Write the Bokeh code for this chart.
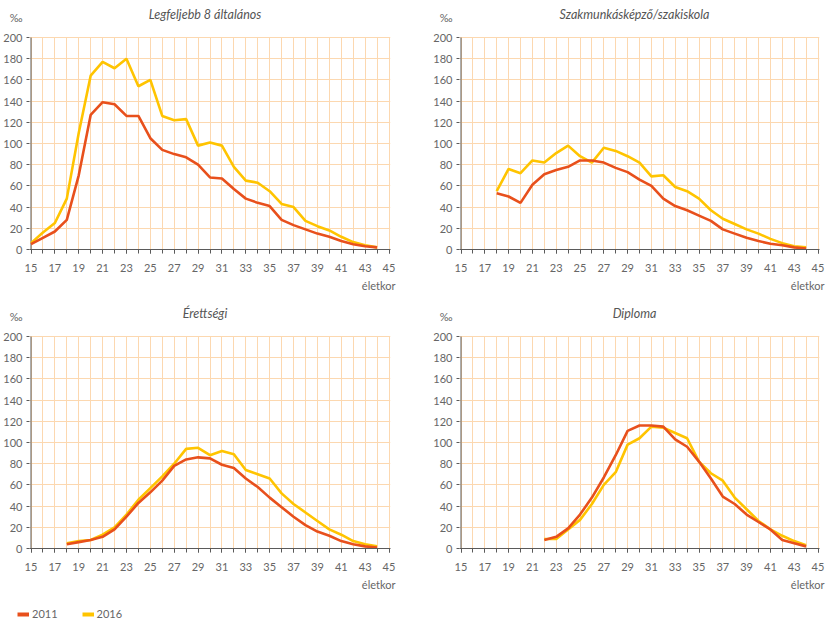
from bokeh.plotting import figure
from bokeh.layouts import column, row
from bokeh.models import (FixedTicker, Range1d, Label, Legend, LegendItem, ColumnDataSource,
                          Title, Grid)
from bokeh.embed import file_html
from bokeh.resources import INLINE

# ---------------- data ----------------
titles = ["Legfeljebb 8 általános", "Szakmunkásképző/szakiskola", "Érettségi", "Diploma"]
series_names = ["2011", "2016"]
unit_label = "‰"
x_axis_label = "életkor"

ages_8alt = list(range(15, 45))
v2011_8alt = [5, 11, 17, 28, 70, 127, 139, 137, 126, 126, 105, 94, 90, 87, 80, 68, 67, 57, 48, 44,
              41, 28, 23, 19, 15, 12, 8, 5, 3, 2]
v2016_8alt = [6, 16, 25, 48, 110, 164, 177, 171, 180, 154, 160, 126, 122, 123, 98, 101, 98, 78, 65, 63,
              55, 43, 40, 27, 22, 18, 12, 7, 4, 2]

ages_szak = list(range(18, 45))
v2011_szak = [53, 50, 44, 61, 71, 75, 78, 84, 84, 82, 77, 73, 66, 60, 48, 41, 37, 32, 27, 19,
              15, 11, 8, 5.5, 4, 2, 1]
v2016_szak = [55, 76, 72, 84, 82, 91, 98, 88, 82, 96, 93, 88, 82, 69, 70, 59, 55, 48, 37, 29,
              24, 19, 15, 10, 6, 3, 2]

ages_eret = list(range(18, 45))
v2011_eret = [4, 6, 8, 11, 18, 30, 43, 53, 64, 78, 84, 86, 85, 79, 76, 66, 58, 48, 39, 30,
              22, 16, 12, 7, 4, 2, 1]
v2016_eret = [5, 7, 8, 13, 20, 32, 46, 57, 68, 80, 94, 95, 88, 92, 89, 74, 70, 66, 52, 42,
              34, 26, 18, 13, 7, 4, 2]

ages_dipl = list(range(22, 45))
v2011_dipl = [8, 11, 19, 32, 48, 67, 88, 111, 116, 116, 115, 103, 96, 82, 66, 49, 42, 32, 25, 18,
              8, 5, 2]
v2016_dipl = [9, 9, 18, 27, 42, 60, 72, 98, 104, 115, 114, 109, 104, 82, 71, 64, 48, 37, 26, 18,
              12, 7, 3]

x_ticks = list(range(15, 46, 2))
x_minor = list(range(15, 46))
y_ticks = list(range(0, 201, 20))

# ---------------- style ----------------
C2011 = "#E8501C"
C2016 = "#FFC400"
GRID = "#FCD8B0"
AXIS = "#5a5a5a"
TXT = "#666666"
FONT = "Lato"

HAS_CROSS = "cross_bounds" in Grid.properties()

X0, X1 = x_ticks[0], x_ticks[-1]
Y0, Y1 = y_ticks[0], y_ticks[-1]

DATA_H = 212          # px for 0..200
FRAME_H = 244         # frame reaches above 200 to hold title / unit
PAD_PX = 1.5          # px of frame kept left/right of 15 and 45


def make_panel(title, ages, a, b, data_w, width, height, bottom):
    pad = PAD_PX * (X1 - X0) / data_w
    y_top = Y1 * FRAME_H / DATA_H
    y_pm = Y1 + 20 * Y1 / DATA_H           # unit sign ~20 px above the 200 line
    left = 29
    right = width - left - data_w - 3
    top = height - FRAME_H - bottom
    p = figure(width=width, height=height, x_range=Range1d(X0 - pad, X1 + pad),
               y_range=Range1d(Y0, y_top), title=None,
               output_backend="svg", toolbar_location=None,
               min_border_left=left, min_border_right=right,
               min_border_top=top, min_border_bottom=bottom)
    p.outline_line_color = None
    p.background_fill_color = "white"
    p.border_fill_color = "white"

    # x axis
    p.xaxis.ticker = FixedTicker(ticks=x_ticks, minor_ticks=x_minor)
    p.xaxis.axis_line_color = AXIS
    p.xaxis.major_tick_line_color = AXIS
    p.xaxis.minor_tick_line_color = AXIS
    p.xaxis.major_tick_in = 0
    p.xaxis.minor_tick_in = 0
    p.xaxis.major_tick_out = 4
    p.xaxis.minor_tick_out = 4
    p.xaxis.major_label_standoff = 10

    # y axis: labelled majors (incl. unit sign), ticks drawn as minors
    p.yaxis.ticker = FixedTicker(ticks=y_ticks + [y_pm], minor_ticks=y_ticks)
    p.yaxis.major_label_overrides = {y_pm: unit_label}
    p.yaxis.axis_line_color = None
    p.yaxis.major_tick_line_color = None
    p.yaxis.minor_tick_line_color = AXIS
    p.yaxis.major_tick_in = 0
    p.yaxis.major_tick_out = 0
    p.yaxis.minor_tick_in = 0
    p.yaxis.minor_tick_out = 3
    p.yaxis.major_label_standoff = 4

    for ax in (p.xaxis, p.yaxis):
        ax.major_label_text_font = FONT
        ax.major_label_text_font_size = "11px"
        ax.major_label_text_color = TXT

    # grid
    p.ygrid.ticker = FixedTicker(ticks=y_ticks)
    p.ygrid.grid_line_color = GRID
    p.xgrid.ticker = FixedTicker(ticks=x_minor)
    if HAS_CROSS:
        p.xgrid.grid_line_color = GRID
        p.xgrid.cross_bounds = (Y0, Y1)
    else:
        p.xgrid.grid_line_color = None
        p.segment(x0=x_minor, y0=[Y0] * len(x_minor), x1=x_minor, y1=[Y1] * len(x_minor),
                  line_color=GRID, line_width=1, level="underlay")

    # y axis line
    p.segment(x0=[X0], y0=[Y0], x1=[X0], y1=[Y1], line_color=AXIS, line_width=1)

    src = ColumnDataSource(dict(age=ages, a=a, b=b))
    p.line("age", "b", source=src, line_color=C2016, line_width=2.6)
    p.line("age", "a", source=src, line_color=C2011, line_width=2.6)

    p.add_layout(Label(x=(X0 + X1) / 2, y=Y1, x_offset=-5, y_offset=23, text=title,
                       text_align="center", text_baseline="middle", text_font=FONT,
                       text_font_style="italic", text_font_size="12.5px",
                       text_color="#555555"))
    p.add_layout(Title(text=x_axis_label, align="right", offset=-5, standoff=5,
                       text_font=FONT, text_font_style="normal", text_font_size="11px",
                       text_color=TXT), "below")
    return p


p1 = make_panel(titles[0], ages_8alt, v2011_8alt, v2016_8alt, 358, 430, 299, 50)
p2 = make_panel(titles[1], ages_szak, v2011_szak, v2016_szak, 357, 397, 299, 50)
p3 = make_panel(titles[2], ages_eret, v2011_eret, v2016_eret, 358, 430, 303, 54)
p4 = make_panel(titles[3], ages_dipl, v2011_dipl, v2016_dipl, 357, 397, 303, 54)

# legend strip (renderers hold the first panel's series, kept out of view)
lg = figure(width=300, height=22, x_range=Range1d(100, 101), y_range=Range1d(0, 1),
            output_backend="svg", toolbar_location=None, title=None,
            min_border_left=0, min_border_right=0, min_border_top=0, min_border_bottom=0)
lg.outline_line_color = None
lg.axis.visible = False
lg.grid.visible = False
lsrc = ColumnDataSource(dict(age=ages_8alt, a=v2011_8alt, b=v2016_8alt))
r1 = lg.line("age", "a", source=lsrc, line_color=C2011, line_width=4)
r2 = lg.line("age", "b", source=lsrc, line_color=C2016, line_width=4)
legend = Legend(items=[LegendItem(label=series_names[0], renderers=[r1]),
                       LegendItem(label=series_names[1], renderers=[r2])],
                orientation="horizontal", location=(17, 4), padding=0, margin=0, spacing=24,
                glyph_width=12, glyph_height=12, label_height=12, label_standoff=3,
                label_text_font=FONT, label_text_font_size="11px", label_text_color=TXT,
                border_line_color=None, background_fill_alpha=0)
lg.add_layout(legend)

layout = column(row(p1, p2), row(p3, p4), lg)
open("out.html", "w").write(file_html(layout, INLINE))
